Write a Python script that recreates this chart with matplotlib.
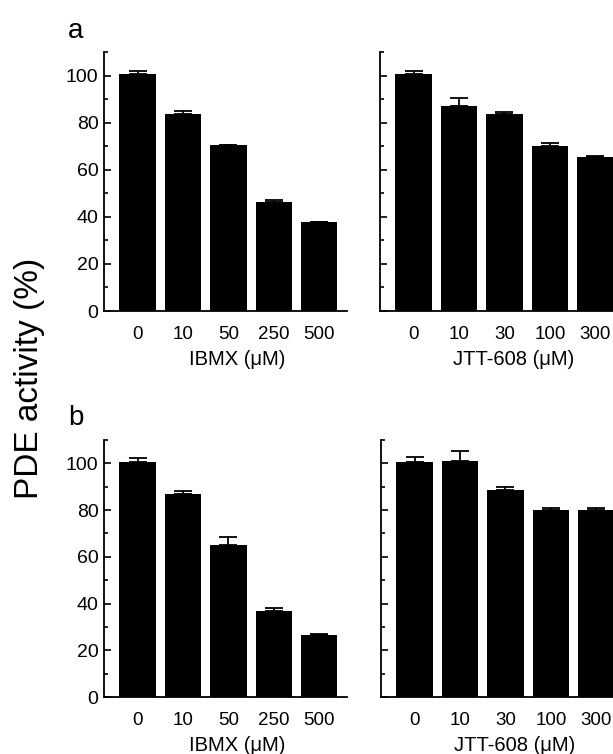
import numpy as np
import matplotlib
matplotlib.use('Agg')
import matplotlib.pyplot as plt
from matplotlib.ticker import MultipleLocator

plt.rcParams['font.family'] = ['Liberation Sans', 'DejaVu Sans']

# Panel a
ibmx_labels = ['0', '10', '50', '250', '500']
jtt_labels = ['0', '10', '30', '100', '300']

a_ibmx = [100.6, 83.5, 70.3, 46.2, 37.7]
a_ibmx_err = [1.2, 1.3, 0.2, 1.0, 0.3]
a_jtt = [100.7, 86.9, 83.7, 70.1, 65.4]
a_jtt_err = [1.3, 3.4, 1.0, 1.4, 0.6]

# Panel b
b_ibmx = [100.6, 86.8, 65.0, 36.9, 26.6]
b_ibmx_err = [1.5, 1.4, 3.5, 1.3, 0.2]
b_jtt = [100.6, 101.1, 88.8, 80.2, 80.2]
b_jtt_err = [2.1, 4.2, 1.2, 0.7, 0.7]

W, H = 613, 754
fig = plt.figure(figsize=(W / 100, H / 100), dpi=100)


def px_axes(x0, y0, x1, y1):
    return fig.add_axes([x0 / W, 1 - y1 / H, (x1 - x0) / W, (y1 - y0) / H])


def bar_panel(ax, vals, errs, labels, xlabel, show_ylabels):
    x = np.arange(len(vals))
    ax.bar(x, vals, width=0.8, color='black', edgecolor='black', linewidth=0,
           yerr=[np.zeros(len(errs)), errs], capsize=6.5,
           error_kw=dict(ecolor='black', elinewidth=1.3, capthick=1.3))
    ax.set_xlim(-0.74, 4.61)
    ax.set_ylim(0, 110)
    ax.set_xticks(x)
    ax.set_xticklabels(labels, fontsize=13.5)
    ax.yaxis.set_major_locator(MultipleLocator(20))
    ax.yaxis.set_minor_locator(MultipleLocator(10))
    ax.tick_params(axis='y', which='major', direction='in', length=5, width=1.2,
                   labelsize=14, pad=4, labelleft=show_ylabels)
    ax.tick_params(axis='y', which='minor', direction='in', length=3, width=1.2)
    ax.tick_params(axis='x', length=0, pad=11)
    ax.set_xlabel(xlabel, fontsize=14.5, labelpad=5)
    ax.xaxis.label.set_x(0.55)
    for s in ['top', 'right']:
        ax.spines[s].set_visible(False)
    for s in ['left', 'bottom']:
        ax.spines[s].set_linewidth(1.3)


ax1 = px_axes(104, 52, 347, 311)
ax2 = px_axes(380, 52, 623, 311)
ax3 = px_axes(104, 440, 347, 697)
ax4 = px_axes(381, 440, 624, 697)

bar_panel(ax1, a_ibmx, a_ibmx_err, ibmx_labels, 'IBMX (μM)', True)
bar_panel(ax2, a_jtt, a_jtt_err, jtt_labels, 'JTT-608 (μM)', False)
bar_panel(ax3, b_ibmx, b_ibmx_err, ibmx_labels, 'IBMX (μM)', True)
bar_panel(ax4, b_jtt, b_jtt_err, jtt_labels, 'JTT-608 (μM)', False)

fig.text(68 / W, 1 - 38 / H, 'a', fontsize=20, ha='left', va='baseline')
fig.text(68 / W, 1 - 425 / H, 'b', fontsize=20, ha='left', va='baseline')
fig.text(30 / W, 1 - 378 / H, 'PDE activity (%)', fontsize=24, rotation=90,
         ha='center', va='center')

fig.savefig('out.png', dpi=100)
